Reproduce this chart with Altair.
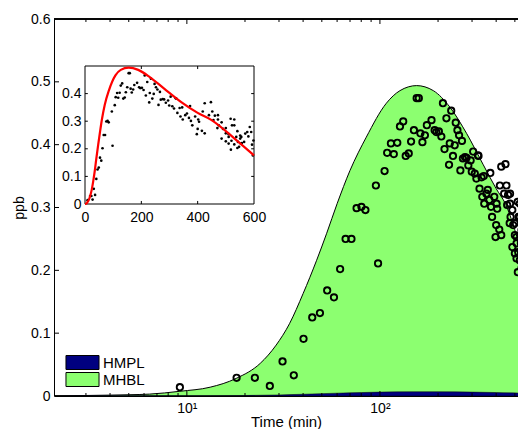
import altair as alt
import pandas as pd

# ---------------- data ----------------
model_t = [0, 2, 3, 4, 5, 6.4, 9.2, 13.2, 18, 24, 29, 34, 40, 47, 53, 60, 70, 85,
           108, 127, 155, 189, 230, 281, 343, 400, 448, 531, 600]
model_ppb = [0, 0.0003, 0.0008, 0.0014, 0.002, 0.003, 0.0075, 0.014, 0.028, 0.052,
             0.081, 0.115, 0.163, 0.216, 0.259, 0.306, 0.359, 0.412, 0.466, 0.486,
             0.494, 0.486, 0.460, 0.418, 0.368, 0.330, 0.305, 0.237, 0.176]

hmpl_t = [2, 10, 20, 30, 40, 60, 80, 100, 150, 200, 300, 400, 600]
hmpl_ppb = [0, 0.0002, 0.0008, 0.0017, 0.0028, 0.0045, 0.0055, 0.0062, 0.0068,
            0.0068, 0.0062, 0.0055, 0.0042]

obs_t = [9.2, 18.1, 22.5, 26.9, 31.3, 35.8, 40.2, 44.6, 48.9, 53.3,
         57.8, 62.2, 66.4, 71.2, 75.7, 80.2, 84.1, 95.3, 97.8, 105.7,
         109, 118, 114, 123, 136, 141, 127, 132, 145, 150,
         155, 159, 166, 162, 171, 175, 185, 192, 196, 202,
         208, 212, 221, 234, 216, 228, 230, 244, 239, 247,
         252, 257, 266, 261, 269, 281, 295, 304, 287, 299,
         310, 324, 316, 336, 345, 328, 339, 356, 373, 347,
         369, 376, 402, 425, 447, 381, 400, 415, 397, 452,
         461, 472, 475, 490, 500, 510, 520, 530, 518, 530,
         541, 551, 276, 322, 362, 391, 405, 425, 418, 440,
         472, 530, 456, 485, 470, 500, 510, 485, 500, 510,
         541, 551, 557, 537, 543, 585, 590, 596, 565, 553,
         547, 569, 576, 555, 522, 517, 580, 598, 593]
obs_ppb = [0.014, 0.029, 0.029, 0.016, 0.055, 0.033, 0.091, 0.125, 0.132, 0.168,
           0.157, 0.202, 0.250, 0.250, 0.299, 0.301, 0.296, 0.335, 0.211, 0.358,
           0.387, 0.385, 0.402, 0.403, 0.382, 0.386, 0.429, 0.437, 0.405, 0.423,
           0.474, 0.474, 0.404, 0.418, 0.415, 0.431, 0.439, 0.423, 0.420, 0.421,
           0.413, 0.466, 0.442, 0.454, 0.393, 0.368, 0.402, 0.399, 0.382, 0.435,
           0.423, 0.415, 0.406, 0.359, 0.378, 0.379, 0.375, 0.389, 0.367, 0.357,
           0.354, 0.382, 0.346, 0.348, 0.350, 0.330, 0.317, 0.322, 0.355, 0.306,
           0.312, 0.301, 0.306, 0.365, 0.369, 0.285, 0.272, 0.265, 0.253, 0.335,
           0.320, 0.306, 0.285, 0.272, 0.256, 0.243, 0.229, 0.216, 0.197, 0.285,
           0.264, 0.248, 0.380, 0.383, 0.328, 0.317, 0.298, 0.256, 0.335, 0.322,
           0.322, 0.306, 0.304, 0.296, 0.275, 0.275, 0.253, 0.237, 0.227, 0.219,
           0.203, 0.237, 0.221, 0.243, 0.225, 0.279, 0.261, 0.176, 0.225, 0.219,
           0.207, 0.255, 0.261, 0.243, 0.285, 0.309, 0.245, 0.230, 0.215]

series_names = ["HMPL", "MHBL"]
series_colors = ["#000080", "#8CFF70"]

x_domain = [2.05, 519]
y_domain = [0, 0.6]
x_major = [10, 100]
x_minor = [3, 4, 5, 6, 7, 8, 9, 20, 30, 40, 50, 60, 70, 80, 90, 200, 300, 400, 500]
y_ticks = [0, 0.1, 0.2, 0.3, 0.4, 0.5, 0.6]

inset_x_domain = [0, 600]
inset_y_domain = [0, 0.5]
inset_x_ticks = [0, 200, 400, 600]
inset_y_ticks = [0, 0.1, 0.2, 0.3, 0.4]

# ---------------- layout ----------------
W, H = 464, 377
FONT = "Liberation Sans"

model = pd.DataFrame({"t": model_t, "ppb": model_ppb, "series": "MHBL"})
hmpl = pd.DataFrame({"t": hmpl_t, "ppb": hmpl_ppb, "series": "HMPL"})
obs = pd.DataFrame({"t": obs_t, "ppb": obs_ppb})
xmaj = pd.DataFrame({"v": x_major})
xmin = pd.DataFrame({"v": x_minor})
ytk = pd.DataFrame({"v": y_ticks[1:-1]})

xscale = alt.Scale(type="log", domain=x_domain, nice=False)
yscale = alt.Scale(domain=y_domain, nice=False)

xaxis = alt.Axis(values=x_major, labelExpr="datum.value == 10 ? '10¹' : '10²'",
                 ticks=False, domainColor="black", domainWidth=1, grid=False,
                 labelFont=FONT, labelFontSize=14, labelColor="black", labelPadding=5,
                 labelFlush=False, labelOverlap=False,
                 title="Time (min)", titleFont=FONT, titleFontSize=15,
                 titleFontWeight="normal", titleColor="black",
                 titleBaseline="bottom", titleY=33, zindex=1)
yaxis = alt.Axis(values=y_ticks, labelExpr="datum.value == 0 ? '0' : format(datum.value, '.1f')",
                 ticks=False, domainColor="black", domainWidth=1, grid=False,
                 labelFont=FONT, labelFontSize=14, labelColor="black", labelPadding=4,
                 labelOverlap=False,
                 title="ppb", titleFont=FONT, titleFontSize=14, titleFontWeight="normal",
                 titleColor="black", titlePadding=4, zindex=1)

color = alt.Color("series:N", scale=alt.Scale(domain=series_names, range=series_colors),
                  legend=alt.Legend(title=None, orient="none", legendX=21, legendY=336,
                                    symbolType="M-2.36,-1H2.36V1H-2.36Z", symbolSize=196,
                                    symbolStrokeColor="black", symbolStrokeWidth=1,
                                    symbolOpacity=1, labelFont=FONT, labelFontSize=15,
                                    labelColor="black", labelOffset=13, rowPadding=-2,
                                    padding=0))

green = alt.Chart(model).transform_filter("datum.t > 0").mark_area(
    stroke="black", strokeWidth=1, interpolate="monotone", clip=True, opacity=1
).encode(
    x=alt.X("t:Q", scale=xscale, axis=xaxis),
    y=alt.Y("ppb:Q", scale=yscale, axis=yaxis, stack=None),
    color=color,
)
blue = alt.Chart(hmpl).mark_area(
    stroke="black", strokeWidth=0.5, interpolate="monotone", clip=True, opacity=1
).encode(
    x=alt.X("t:Q", scale=xscale, axis=xaxis),
    y=alt.Y("ppb:Q", scale=yscale, axis=yaxis, stack=None),
    color=color,
)
points = alt.Chart(obs).mark_point(
    shape="circle", filled=False, color="black", strokeWidth=1.9, size=40, clip=True, opacity=1
).encode(
    x=alt.X("t:Q", scale=xscale, axis=xaxis),
    y=alt.Y("ppb:Q", scale=yscale, axis=yaxis),
)
top_border = alt.Chart(ytk).mark_rule(color="black", strokeWidth=1).encode(
    y=alt.Y(datum=y_domain[1], type="quantitative", scale=yscale, axis=yaxis)
)
xt_major_b = alt.Chart(xmaj).mark_rule(color="black").encode(
    x=alt.X("v:Q", scale=xscale, axis=xaxis), y=alt.value(H), y2=alt.value(H - 5))
xt_major_t = alt.Chart(xmaj).mark_rule(color="black").encode(
    x=alt.X("v:Q", scale=xscale, axis=xaxis), y=alt.value(0), y2=alt.value(5))
xt_minor_b = alt.Chart(xmin).mark_rule(color="black").encode(
    x=alt.X("v:Q", scale=xscale, axis=xaxis), y=alt.value(H), y2=alt.value(H - 3))
xt_minor_t = alt.Chart(xmin).mark_rule(color="black").encode(
    x=alt.X("v:Q", scale=xscale, axis=xaxis), y=alt.value(0), y2=alt.value(3))
yt = alt.Chart(ytk).mark_rule(color="black").encode(
    y=alt.Y("v:Q", scale=yscale, axis=yaxis), x=alt.value(0), x2=alt.value(5))

main = alt.layer(green, blue, points, top_border, xt_major_b, xt_major_t,
                 xt_minor_b, xt_minor_t, yt)

# ---------------- inset ----------------
iscale_x = alt.Scale(domain=inset_x_domain, range=[31, 200], nice=False)
iscale_y = alt.Scale(domain=inset_y_domain, range=[185, 47], nice=False)
iaxis_x = alt.Axis(orient="bottom", offset=-(H - 185), values=inset_x_ticks, ticks=False,
                   domain=False, grid=False, labelFont=FONT, labelFontSize=14,
                   labelColor="black", labelPadding=6, labelFlush=False,
                   labelOverlap=False, title=None, zindex=1)
iaxis_y = alt.Axis(orient="left", offset=-31, values=inset_y_ticks, ticks=False,
                   domain=False, grid=False, labelFont=FONT, labelFontSize=14,
                   labelColor="black", labelPadding=4, labelOverlap=False,
                   labelExpr="datum.value == 0 ? '0' : format(datum.value, '.1f')",
                   title=None, zindex=1)

frame = pd.DataFrame({"x0": [inset_x_domain[0]], "x1": [inset_x_domain[1]],
                      "y0": [inset_y_domain[0]], "y1": [inset_y_domain[1]]})
ixt = pd.DataFrame({"v": inset_x_ticks[1:-1]})
iyt = pd.DataFrame({"v": inset_y_ticks[1:]})

box = alt.Chart(frame).mark_rect(fill="white", stroke="black", strokeWidth=1).encode(
    x=alt.X("x0:Q", scale=iscale_x, axis=iaxis_x), x2="x1:Q",
    y=alt.Y("y0:Q", scale=iscale_y, axis=iaxis_y), y2="y1:Q",
)
dots = alt.Chart(obs).mark_circle(color="black", size=7, opacity=1).encode(
    x=alt.X("t:Q", scale=iscale_x, axis=iaxis_x),
    y=alt.Y("ppb:Q", scale=iscale_y, axis=iaxis_y),
)
red = alt.Chart(model).mark_line(color="#FF0000", strokeWidth=2.2, interpolate="monotone").encode(
    x=alt.X("t:Q", scale=iscale_x, axis=iaxis_x),
    y=alt.Y("ppb:Q", scale=iscale_y, axis=iaxis_y),
)
ixt_b = alt.Chart(ixt).mark_rule(color="black").encode(
    x=alt.X("v:Q", scale=iscale_x, axis=iaxis_x),
    y=alt.Y(datum=0, type="quantitative"), y2=alt.Y2(datum=0.011))
ixt_t = alt.Chart(ixt).mark_rule(color="black").encode(
    x=alt.X("v:Q", scale=iscale_x, axis=iaxis_x),
    y=alt.Y(datum=0.5, type="quantitative"), y2=alt.Y2(datum=0.489))
iyt_l = alt.Chart(iyt).mark_rule(color="black").encode(
    y=alt.Y("v:Q", scale=iscale_y, axis=iaxis_y),
    x=alt.X(datum=0, type="quantitative"), x2=alt.X2(datum=10))
iyt_r = alt.Chart(iyt).mark_rule(color="black").encode(
    y=alt.Y("v:Q", scale=iscale_y, axis=iaxis_y),
    x=alt.X(datum=600, type="quantitative"), x2=alt.X2(datum=590))

inset = alt.layer(box, dots, red, ixt_b, ixt_t, iyt_l, iyt_r)

chart = alt.layer(main, inset).resolve_scale(
    x="independent", y="independent"
).properties(
    width=W, height=H,
    padding={"left": 46, "top": 11, "right": 0, "bottom": 33},
    autosize=alt.AutoSizeParams(type="none"),
    background="white",
).configure_view(stroke=None)

chart.save("out.html", embed_options={"renderer": "svg", "actions": False})
